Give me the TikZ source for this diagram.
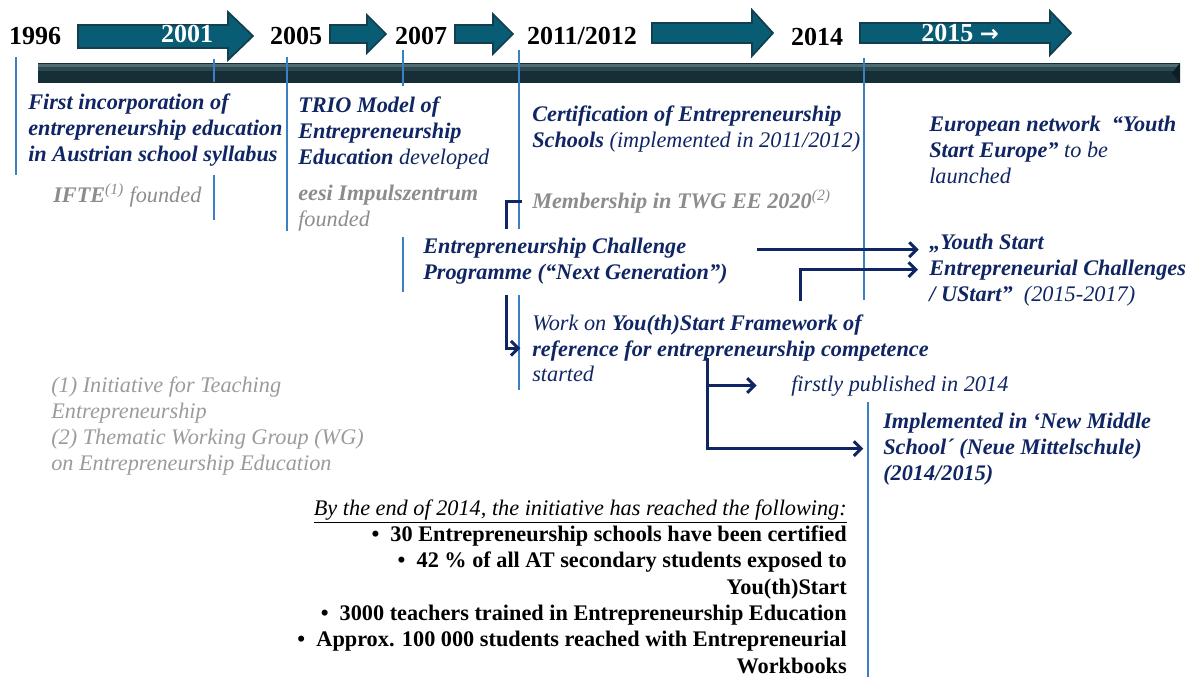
\documentclass[tikz,border=0pt]{standalone}
\usepackage{fontspec}
\setmainfont{Liberation Serif}
\newfontfamily\arrowfont{DejaVu Sans}
\usetikzlibrary{arrows.meta}

\begin{document}
\begin{tikzpicture}[x=0.75pt,y=0.75pt,yscale=-1,xscale=1,
  bigarrow/.style={fill={rgb, 255:red, 8; green, 92; blue, 116 }, draw={rgb, 255:red, 18; green, 62; blue, 78 }, line width=1.3},
  tick/.style={color={rgb, 255:red, 58; green, 128; blue, 196 }, line width=0.9},
  link/.style={color={rgb, 255:red, 16; green, 38; blue, 100 }, line width=2.25, -{Straight Barb[length=5.5pt,width=11pt]}},
  year/.style={anchor=base, inner sep=0.75pt, font=\fontsize{19.5}{22}\selectfont\bfseries},
  txt/.style={anchor=base west, inner sep=0.75pt, align=left, font=\fontsize{16.7}{19.5}\selectfont\itshape, color={rgb, 255:red, 16; green, 38; blue, 100 }},
  greytxt/.style={txt, color={rgb, 255:red, 140; green, 140; blue, 140 }},
  notetxt/.style={txt, color={rgb, 255:red, 155; green, 155; blue, 155 }}]
\useasboundingbox (0,0) rectangle (1196,677);

%Shape: Bar
\fill [color={rgb, 255:red, 22; green, 46; blue, 53 }] (38,63) rectangle (1180,83);
\fill [color={rgb, 255:red, 78; green, 108; blue, 114 }] (38,64) rectangle (1180,67);
\fill [color={rgb, 255:red, 45; green, 74; blue, 82 }] (38,67) rectangle (1180,71);
\fill [color={rgb, 255:red, 12; green, 30; blue, 36 }] (1180,63) -- (1172,73) -- (1180,83) -- cycle ;

%Shape: Right Arrow
\draw [bigarrow] (78,25) -- (228,25) -- (228,12) -- (253,36) -- (228,60) -- (228,48) -- (78,48) -- cycle ;
%Shape: Right Arrow
\draw [bigarrow] (330,25) -- (367,25) -- (367,15) -- (386,34) -- (367,53) -- (367,43) -- (330,43) -- cycle ;
%Shape: Right Arrow
\draw [bigarrow] (455,25) -- (493,25) -- (493,14) -- (513,34) -- (493,54) -- (493,43) -- (455,43) -- cycle ;
%Shape: Right Arrow
\draw [bigarrow] (652,23) -- (752,23) -- (752,10) -- (773,33) -- (752,56) -- (752,43) -- (652,43) -- cycle ;
%Shape: Right Arrow
\draw [bigarrow] (860,23) -- (1050,23) -- (1050,11) -- (1071,33) -- (1050,55) -- (1050,43) -- (860,43) -- cycle ;

%Straight Lines
\draw [tick] (16,57) -- (16,175) ;
\draw [tick] (214,59) -- (214,82) ;
\draw [tick] (214,175) -- (214,220) ;
\draw [tick] (287,57) -- (287,231) ;
\draw [tick] (403,50) -- (403,86) ;
\draw [tick] (403,237) -- (403,292) ;
\draw [tick] (519,50) -- (519,390) ;
\draw [tick] (864,58) -- (864,300) ;
\draw [tick] (868,402) -- (868,677) ;

% Text Node
\draw (35,45) node (y1996) [year] {1996};
\draw (187,43) node (y2001) [year, color=white] {2001};
\draw (296,45) node (y2005) [year] {2005};
\draw (421,45) node (y2007) [year] {2007};
\draw (582,45) node (y2011) [year] {2011/2012};
\draw (817,46) node (y2014) [year] {2014};
\draw (960,42) node (y2015) [year, color=white] {2015 {\arrowfont\fontsize{17}{20}\selectfont →}};

% Text Node
\draw (27,162) node (first) [txt] {\textbf{First incorporation of}\\\textbf{entrepreneurship education}\\\textbf{in Austrian school syllabus}};
% Text Node
\draw (52,203) node (ifte) [greytxt] {\textbf{IFTE}\textsuperscript{(1)} founded};
% Text Node
\draw (297,165) node (trio) [txt] {\textbf{TRIO Model of}\\\textbf{Entrepreneurship}\\\textbf{Education} developed};
% Text Node
\draw (297,227) node (eesi) [greytxt] {\textbf{eesi Impulszentrum}\\founded};
% Text Node
\draw (531,148) node (cert) [txt] {\textbf{Certification of Entrepreneurship}\\\textbf{Schools} (implemented in 2011/2012)};
% Text Node
\draw (531,209) node (member) [greytxt] {\textbf{Membership in TWG EE 2020}\textsuperscript{(2)}};
% Text Node
\draw (928,184) node (europe) [txt] {\textbf{European network ~“Youth}\\\textbf{Start Europe”} to be\\launched};
% Text Node
\draw (928,301) node (ys) [txt] {\textbf{„Youth Start}\\\textbf{Entrepreneurial Challenges}\\\textbf{/ UStart”} ~(2015-2017)};
% Text Node
\draw (531,382) node (workon) [txt] {Work on \textbf{You(th)Start Framework of}\\\textbf{reference for entrepreneurship competence}\\started};
% Text Node
\draw (790,391) node (fp) [txt] {firstly published in 2014};
% Text Node
\draw (882,480) node (impl) [txt] {\textbf{Implemented in ‘New Middle}\\\textbf{School´ (Neue Mittelschule)}\\\textbf{(2014/2015)}};
% Text Node
\draw (50,470) node (notes) [notetxt] {(1) Initiative for Teaching\\Entrepreneurship\\(2) Thematic Working Group (WG)\\on Entrepreneurship Education};

%Straight Lines
\draw [link, shorten <=7pt, shorten >=8pt] (member.west) -- ++(-25,0) |- (workon.west) ;

% Text Node
\draw (413,280) node (ec) [txt, fill=white, inner sep=7.5pt] {\textbf{Entrepreneurship Challenge}\\\textbf{Programme (“Next Generation”)}};

%Straight Lines
\coordinate (ecout) at ([shift={(19,-12)}]ec.east);
\draw [link, shorten >=7pt] (ecout) -- (ecout -| ys.west) ;
\coordinate (wup) at ([shift={(70,-12)}]workon.north);
\draw [link, shorten >=7.5pt] (wup) |- (ys.west) ;
\coordinate (wdown) at ([shift={(-23,-25)}]workon.south);
\draw [link, shorten >=25pt] (wdown) |- (fp.west) ;
\draw [link, shorten >=14pt] (wdown) |- (impl.west) ;

% Text Node
\draw (848,673) node (summary) [anchor=base east, inner sep=0.75pt, align=right, font=\fontsize{16.7}{19.7}\selectfont] {\underline{\itshape By the end of 2014, the initiative has reached the following:}\\
\textbf{•\ \ 30 Entrepreneurship schools have been certified}\\
\textbf{•\ \ 42 \% of all AT secondary students exposed to}\\
\textbf{You(th)Start}\\
\textbf{•\ \ 3000 teachers trained in Entrepreneurship Education}\\
\textbf{•\ \ Approx. 100 000 students reached with Entrepreneurial}\\
\textbf{Workbooks}};

\end{tikzpicture}
\end{document}
